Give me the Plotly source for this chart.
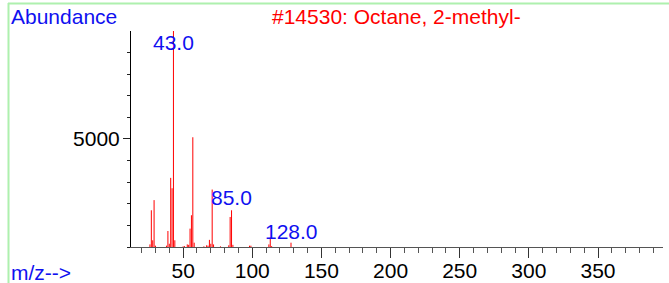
import plotly.graph_objects as go

# ---- data ----
mz = [26, 27, 28, 29, 30, 38, 39, 40, 41, 42, 43, 44, 50, 51, 53, 54, 55, 56, 57, 58,
      65, 67, 68, 69, 70, 71, 72, 77, 83, 84, 85, 86, 98, 99, 112, 113, 114, 128]
abundance = [120, 1700, 310, 2170, 60, 60, 740, 150, 3200, 2720, 9999, 310, 30, 40, 120, 100, 850, 1470, 5080, 200,
             30, 80, 60, 330, 150, 2660, 120, 30, 80, 1390, 1700, 100, 60, 60, 120, 430, 40, 200]
label_mz = [43, 85, 128]
label_text = ["43.0", "85.0", "128.0"]
x_tickvals = [50, 100, 150, 200, 250, 300, 350]
y_tickvals = [5000]
title_text = "#14530: Octane, 2-methyl-"
ylabel_text = "Abundance"
xlabel_text = "m/z-->"

# ---- layout geometry ----
W, H = 669, 283
L, R, T, B = 131, 6, 31, 36
PW, PH = W - L - R, H - T - B
FONT = "Liberation Sans, Arial, sans-serif"
FS = 21
BLUE = "#1010f0"
RED = "#ff0000"

def px_x(px):
    return (px - L) / PW

def px_y(py):
    return (H - B - py) / PH

xs, ys = [], []
for m, a in zip(mz, abundance):
    xs += [m, m, None]
    ys += [0, a, None]

fig = go.Figure()
fig.add_trace(go.Scatter(x=xs, y=ys, mode="lines",
                         line=dict(color=RED, width=1), hoverinfo="skip",
                         showlegend=False))

# peak labels: vertical centres in px
label_centres = [42.5, 197.5, 231]
annotations = []
for m, t, cy in zip(label_mz, label_text, label_centres):
    annotations.append(dict(x=m, xref="x", y=px_y(cy), yref="paper", text=t,
                            showarrow=False, xanchor="center", yanchor="middle",
                            font=dict(family=FONT, size=FS, color=BLUE)))

annotations += [
    dict(x=px_x(9), y=px_y(16), xref="paper", yref="paper", text=ylabel_text,
         showarrow=False, xanchor="left", yanchor="middle",
         font=dict(family=FONT, size=FS, color=BLUE)),
    dict(x=px_x(396), y=px_y(16), xref="paper", yref="paper", text=title_text,
         showarrow=False, xanchor="center", yanchor="middle",
         font=dict(family=FONT, size=FS, color=RED)),
    dict(x=px_x(9), y=px_y(272), xref="paper", yref="paper", text=xlabel_text,
         showarrow=False, xanchor="left", yanchor="middle",
         font=dict(family=FONT, size=FS, color=BLUE)),
]

shapes = [
    dict(type="line", xref="paper", yref="paper", x0=px_x(8), x1=px_x(W + 2),
         y0=px_y(3.5), y1=px_y(3.5), line=dict(color="#aef0ae", width=2)),
    dict(type="line", xref="paper", yref="paper", x0=px_x(8.5), x1=px_x(8.5),
         y0=px_y(3), y1=px_y(H + 2), line=dict(color="#aef0ae", width=2)),
]

fig.update_layout(
    width=W, height=H, autosize=False,
    margin=dict(l=L, r=R, t=T, b=B, pad=0, autoexpand=False),
    paper_bgcolor="white", plot_bgcolor="white",
    font=dict(family=FONT, size=FS, color="black"),
    annotations=annotations, shapes=shapes,
    xaxis=dict(range=[12.3, 397], tickvals=x_tickvals, ticks="outside", ticklen=10,
               tickcolor="#333", tickwidth=1, showgrid=False, zeroline=False,
               showline=True, linecolor="#555", linewidth=1, automargin=False,
               ticklabelstandoff=-5,
               tickfont=dict(family=FONT, size=FS, color="black"),
               minor=dict(dtick=10, tick0=0, ticks="outside", ticklen=5,
                          tickcolor="#555", showgrid=False)),
    yaxis=dict(range=[0, 9999], tickvals=y_tickvals, ticks="outside", ticklen=7,
               tickcolor="#222", showgrid=False, zeroline=False,
               showline=True, linecolor="black", linewidth=1, automargin=False,
               ticklabelstandoff=-1,
               tickfont=dict(family=FONT, size=FS, color="black"),
               minor=dict(dtick=1000, tick0=0, ticks="outside", ticklen=3,
                          tickcolor="#222", showgrid=False)),
)

fig.write_html("out.html", config={"displayModeBar": False},
               post_script="document.body.style.margin='0';document.body.style.overflow='hidden';")
